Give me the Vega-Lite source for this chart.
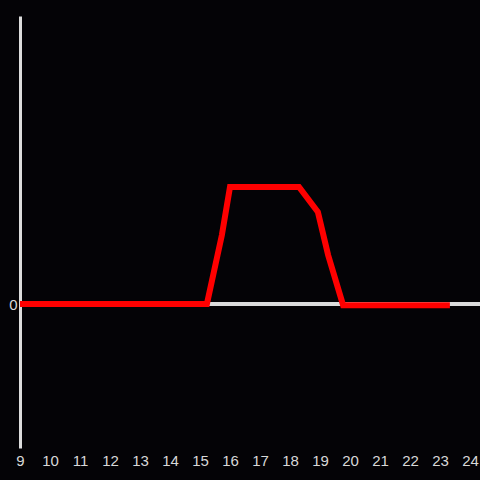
{
  "$schema": "https://vega.github.io/schema/vega-lite/v6.json",
  "autosize": "none",
  "width": 460,
  "height": 432,
  "padding": {"left": 20, "top": 16, "right": 0, "bottom": 32},
  "background": "#040306",
  "config": {
    "view": {"stroke": null},
    "axis": {"grid": false, "labelFont": "Liberation Sans", "labelFontSize": 15, "labelColor": "#d8d8d8", "ticks": false}
  },
  "data": {"values": [
    {"x": 9, "y": 0},
    {"x": 15.23, "y": 0},
    {"x": 15.73, "y": 0.479},
    {"x": 16.0, "y": 0.8125},
    {"x": 18.3, "y": 0.8125},
    {"x": 18.93, "y": 0.639},
    {"x": 19.27, "y": 0.34},
    {"x": 19.77, "y": -0.008},
    {"x": 23.33, "y": -0.008}
  ]},
  "layer": [
    {
      "mark": {"type": "rule", "color": "#dcdcdc", "strokeWidth": 3},
      "encoding": {"y": {"datum": 0, "type": "quantitative", "scale": {"domain": [-1, 2]}}}
    },
    {
      "mark": {"type": "line", "color": "#ff0000", "strokeWidth": 6, "strokeJoin": "miter"},
      "encoding": {
        "x": {"field": "x", "type": "quantitative", "scale": {"domain": [9, 24.3333], "nice": false, "zero": false},
          "axis": {"title": null, "domain": false, "format": "d", "values": [9,10,11,12,13,14,15,16,17,18,19,20,21,22,23,24], "labelPadding": 5, "labelFlush": false, "labelOverlap": false}},
        "y": {"field": "y", "type": "quantitative", "scale": {"domain": [-1, 2], "nice": false},
          "axis": {"title": null, "values": [0], "format": "d", "domainColor": "#dcdcdc", "domainWidth": 3, "labelPadding": 3}}
      }
    }
  ]
}
